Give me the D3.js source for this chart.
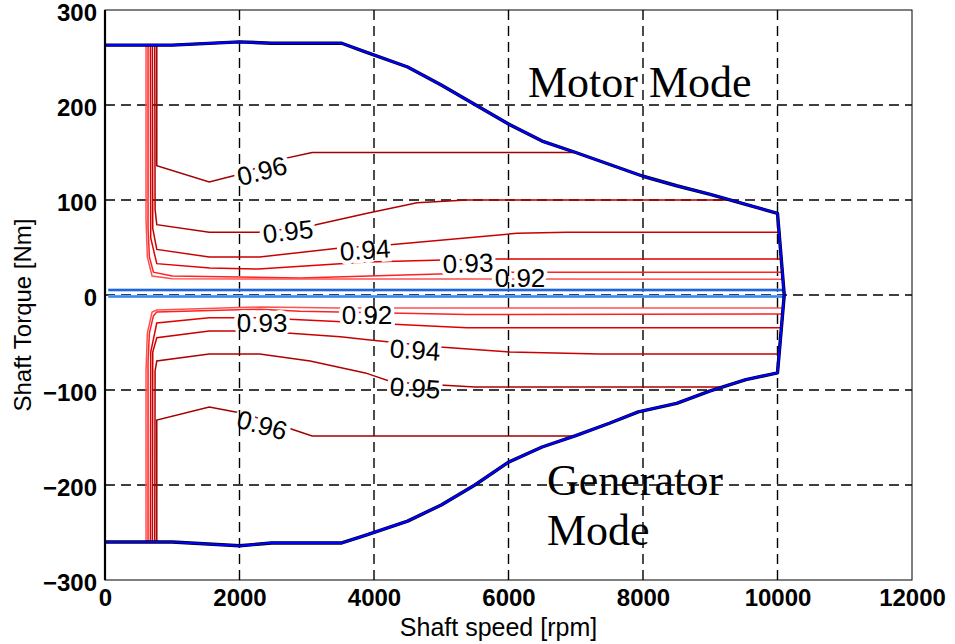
<!DOCTYPE html>
<html lang="en">
<head>
    <meta charset="UTF-8">
    <title>Efficiency map</title>
    <script src="https://d3js.org/d3.v7.min.js"></script>
    <style>
        body { margin: 0; background: #fff; }
        svg { display: block; font-family: Arial, "Liberation Sans", sans-serif; }
        .tick text { font-weight: bold; font-size: 24px; fill: #000; }
        .domain { display: none; }
    </style>
</head>
<body>
    <svg width="955" height="644"></svg>
    <script>
        // axis ticks
        const xTicks = [0, 2000, 4000, 6000, 8000, 10000, 12000];
        const yTicks = [-300, -200, -100, 0, 100, 200, 300];
        const xGrid = [2000, 4000, 6000, 8000, 10000];
        const yGrid = [-200, -100, 0, 100, 200];

        // torque limit envelope [rpm, Nm]
        const envelope = [[0,263],[1000,263],[2000,266.5],[2480,265],[3520,265],[3870,256],[4500,240],[5000,221],
            [6000,180],[6500,162],[7000,150],[8000,125],[8500,115],[9000,106],[9500,96],[10000,86],[10100,0],
            [10000,-82],[9530,-89],[9000,-101],[8500,-114],[7930,-123],[7500,-135],[7000,-148],[6500,-160],
            [6000,-176],[5500,-200],[5000,-221],[4500,-238],[3870,-253],[3520,-261],[2480,-261],[2000,-264],
            [1000,-260],[0,-260]];

        // low torque lines (blue)
        const zeroLineA = [[50,5.3],[10080,5.3]];
        const zeroLineB = [[50,-1.5],[10080,-1.5]];

        // efficiency contours, motor side
        const motor96 = [[770,263],[770,136],[1550,119],[2000,127],[2560,142],[3080,150],[7000,150]];
        const motor95 = [[740,263],[745,90],[770,74],[1550,66],[2280,66],[3020,72],[3900,86],[4640,97],[5380,100],[9300,100]];
        const motor94 = [[705,263],[710,70],[770,48],[1550,40],[2300,40],[3495,49.5],[4240,53],[6130,65],[6870,66],[10025,66]];
        const motor93 = [[675,263],[680,60],[770,33],[1560,28.4],[2280,27.4],[3900,34.7],[5030,36.8],[5770,38],[10055,38]];
        const motor925 = [[640,263],[640,70],[660,40],[720,24],[1000,20],[2900,18],[5870,24],[10070,24]];
        const motor92 = [[610,263],[610,80],[630,40],[700,20],[1000,17],[10080,16.5]];

        // efficiency contours, generator side
        const gen96 = [[770,-261],[770,-131.6],[1550,-118],[2080,-125],[2680,-139],[3080,-148.4],[7000,-148.4]];
        const gen95 = [[740,-261],[745,-80],[770,-69.5],[1550,-62],[2300,-62],[3050,-69.5],[3870,-82],[4270,-91.6],[4980,-94.7],[5500,-96.8],[9185,-96.8]];
        const gen94 = [[705,-261],[710,-60],[770,-45],[1550,-38],[2280,-38],[3500,-44],[3940,-47.4],[4980,-54.7],[6020,-60],[7360,-62],[10024,-62]];
        const gen93 = [[675,-261],[680,-60],[770,-29.5],[1550,-24],[2280,-24],[2900,-26],[5380,-34.4],[10058,-34.4]];
        const gen92 = [[640,-261],[640,-70],[660,-40],[720,-22],[770,-18],[2300,-15],[2900,-17],[5380,-20.5],[10075,-20]];
        const gen915 = [[610,-261],[610,-80],[630,-40],[700,-18],[770,-15.8],[2300,-12.6],[3500,-13.7],[10083,-13.7]];

        const contours = [
            { pts: motor96, color: "#a00000" }, { pts: motor95, color: "#b00000" },
            { pts: motor94, color: "#c80000" }, { pts: motor93, color: "#e00000" },
            { pts: motor925, color: "#ff2020" }, { pts: motor92, color: "#ff5050" },
            { pts: gen96, color: "#a00000" }, { pts: gen95, color: "#b00000" },
            { pts: gen94, color: "#c80000" }, { pts: gen93, color: "#e00000" },
            { pts: gen92, color: "#ff2020" }, { pts: gen915, color: "#ff5050" }
        ];

        // contour labels
        const labelText = ["0.96", "0.95", "0.94", "0.93", "0.92", "0.93", "0.92", "0.94", "0.95", "0.96"];
        const labelRpm = [2335, 2721, 3866, 5398, 6171, 2335, 3896, 4610, 4610, 2335];
        const labelNm = [130.5, 66.8, 47.4, 33.2, 18.4, -29, -21, -58, -98, -137];
        const labelAngle = [-15, -6, -4, -2, 0, 0, 0, 4, 4, 15];

        const margin = { top: 10, right: 43, bottom: 64, left: 105 };
        const width = 955 - margin.left - margin.right;
        const height = 644 - margin.top - margin.bottom;

        const svg = d3.select("svg");
        const g = svg.append("g").attr("transform", `translate(${margin.left},${margin.top})`);

        const x = d3.scaleLinear().domain([0, 12000]).range([0, width]);
        const y = d3.scaleLinear().domain([-300, 300]).range([height, 0]);
        const line = d3.line().x(d => x(d[0])).y(d => y(d[1]));

        // grid
        g.selectAll(".vgrid").data(xGrid).enter().append("line")
            .attr("x1", d => x(d)).attr("x2", d => x(d))
            .attr("y1", 0).attr("y2", height)
            .attr("stroke", "#000").attr("stroke-width", 1.4).attr("stroke-dasharray", "10,6");
        g.selectAll(".hgrid").data(yGrid).enter().append("line")
            .attr("x1", 0).attr("x2", width)
            .attr("y1", d => y(d)).attr("y2", d => y(d))
            .attr("stroke", "#000").attr("stroke-width", 1.4).attr("stroke-dasharray", "10,6");

        // mask so contour lines break under their labels
        const defs = svg.append("defs");
        const mask = defs.append("mask").attr("id", "labelMask")
            .attr("maskUnits", "userSpaceOnUse")
            .attr("x", -margin.left).attr("y", -margin.top).attr("width", 955).attr("height", 644);
        mask.append("rect").attr("x", -margin.left).attr("y", -margin.top)
            .attr("width", 955).attr("height", 644).attr("fill", "#fff");

        const cg = g.append("g").attr("mask", "url(#labelMask)");
        cg.selectAll(".contour").data(contours).enter().append("path")
            .attr("d", d => line(d.pts))
            .attr("fill", "none")
            .attr("stroke", d => d.color)
            .attr("stroke-width", 1.5);

        // blue low torque lines
        [zeroLineA, zeroLineB].forEach((l, i) => {
            g.append("path").attr("d", line(l)).attr("fill", "none")
                .attr("stroke", "#5aa8ff").attr("stroke-width", 3);
            g.append("path").attr("d", line(l)).attr("fill", "none")
                .attr("stroke", i === 0 ? "#1a48c8" : "#3b8cf0").attr("stroke-width", 1.5);
        });

        // envelope
        g.append("path").attr("d", line(envelope)).attr("fill", "none")
            .attr("stroke", "#000").attr("stroke-width", 3.4).attr("stroke-linejoin", "round");
        g.append("path").attr("d", line(envelope)).attr("fill", "none")
            .attr("stroke", "#0000ff").attr("stroke-width", 2.2).attr("stroke-linejoin", "round");

        // contour labels
        labelText.forEach((t, i) => {
            const tr = `translate(${x(labelRpm[i])},${y(labelNm[i])}) rotate(${labelAngle[i]})`;
            mask.append("text").attr("transform", tr)
                .attr("text-anchor", "middle").attr("dominant-baseline", "central")
                .attr("font-size", 26).attr("fill", "#000")
                .attr("stroke", "#000").attr("stroke-width", 8)
                .text(t);
            g.append("text").attr("transform", tr)
                .attr("text-anchor", "middle").attr("dominant-baseline", "central")
                .attr("font-size", 26).attr("fill", "#000")
                .text(t);
        });

        // frame
        g.append("rect").attr("width", width).attr("height", height)
            .attr("fill", "none").attr("stroke", "#000").attr("stroke-width", 1);
        g.append("line").attr("x1", 0).attr("x2", 0).attr("y1", 0).attr("y2", height)
            .attr("stroke", "#000").attr("stroke-width", 2.2);

        // axes
        g.append("g").attr("transform", `translate(0,${height})`)
            .call(d3.axisBottom(x).tickValues(xTicks).tickSize(0).tickPadding(9).tickFormat(d3.format("d")));
        g.append("g")
            .call(d3.axisLeft(y).tickValues(yTicks).tickSize(0).tickPadding(8).tickFormat(d3.format("d")))
            .selectAll("text").attr("dy", "0.42em");

        // axis titles
        g.append("text")
            .attr("x", width / 2 - 10).attr("y", height + 56)
            .attr("text-anchor", "middle").attr("font-size", 25)
            .text("Shaft speed [rpm]");
        g.append("text")
            .attr("transform", `translate(${-margin.left + 31},${height / 2 + 20}) rotate(-90)`)
            .attr("text-anchor", "middle").attr("font-size", 24)
            .text("Shaft Torque [Nm]");

        // mode captions
        const serif = "'Liberation Serif', 'Times New Roman', serif";
        g.append("text").attr("x", 528 - margin.left).attr("y", 97 - margin.top)
            .attr("font-family", serif).attr("font-size", 44).text("Motor Mode");
        g.append("text").attr("x", 547 - margin.left).attr("y", 495 - margin.top)
            .attr("font-family", serif).attr("font-size", 44).text("Generator");
        g.append("text").attr("x", 547 - margin.left).attr("y", 545 - margin.top)
            .attr("font-family", serif).attr("font-size", 44).text("Mode");
    </script>
</body>
</html>
